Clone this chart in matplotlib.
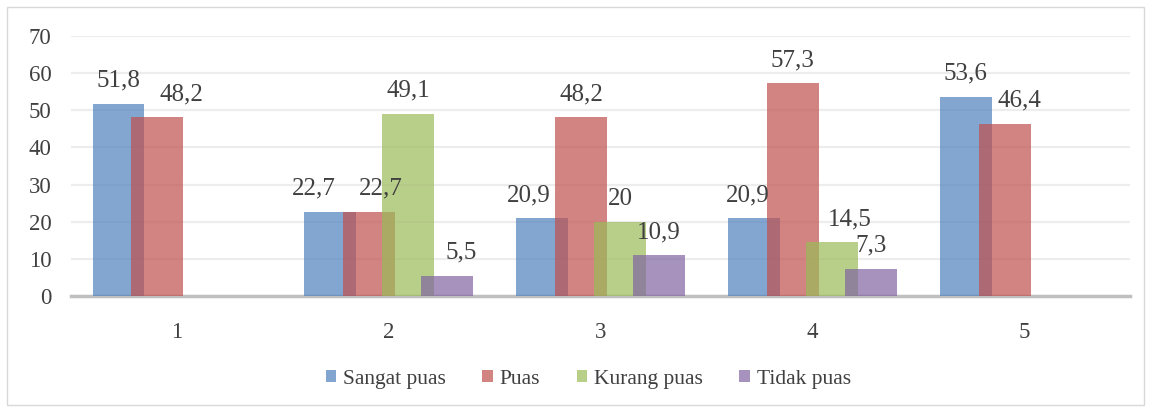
import numpy as np
import matplotlib.pyplot as plt
from matplotlib.patches import Rectangle

# Data
categories = ['1', '2', '3', '4', '5']
series_names = ['Sangat puas', 'Puas', 'Kurang puas', 'Tidak puas']
sangat_puas = [51.8, 22.7, 20.9, 20.9, 53.6]
puas = [48.2, 22.7, 48.2, 57.3, 46.4]
kurang_puas = [None, 49.1, 20.0, 14.5, None]
tidak_puas = [None, 5.5, 10.9, 7.3, None]
colors = ['#4F81BD', '#C0504D', '#9BBB59', '#8064A2']

# horizontal nudges (pixels) of the value labels, as Excel moves them off neighbours
label_dx = [[0, -16, -13, -6, 0],
            [24, 12, 0, 0, 15],
            [0, 0, 0, 18, 0],
            [0, 14, 0, 0, 0]]

plt.rcParams['font.family'] = ['Liberation Serif', 'DejaVu Serif']
txt_color = '#404040'

fig = plt.figure(figsize=(11.51, 4.12), dpi=100)
ax = fig.add_axes([0.0617, 0.2816, 0.92, 0.631])

# light outer frame like the Excel chart area
fig.patches.append(Rectangle((7 / 1151, 7 / 412), 1137 / 1151, 398 / 412,
                             transform=fig.transFigure, fill=False,
                             edgecolor='#D9D9D9', lw=1.0))

x = np.arange(len(categories))
step = 0.184   # bars overlap
width = 0.245
all_series = [sangat_puas, puas, kurang_puas, tidak_puas]

for i, (name, vals, col) in enumerate(zip(series_names, all_series, colors)):
    xs = x + (i - 1.5) * step
    hs = [v if v is not None else 0 for v in vals]
    ax.bar(xs, hs, width=width, color=col, alpha=0.7, label=name,
           linewidth=0, zorder=3)
    for j, (xi, v) in enumerate(zip(xs, vals)):
        if v is None:
            continue
        lbl = ('%g' % v).replace('.', ',')
        ax.annotate(lbl, (xi, v), xytext=(label_dx[i][j], 23),
                    textcoords='offset pixels', ha='center', va='center',
                    fontsize=18, color=txt_color, zorder=5)

ax.set_xlim(-0.5, len(categories) - 0.5)
ax.set_ylim(0, 70)
ax.set_yticks(np.arange(0, 71, 10))
ax.set_xticks(x)
ax.set_xticklabels(categories)
ax.grid(axis='y', color='#EDEDED', lw=1.6, zorder=0)
ax.set_axisbelow(True)
for s in ['top', 'right', 'left']:
    ax.spines[s].set_visible(False)
ax.spines['bottom'].set_color('#BFBFBF')
ax.spines['bottom'].set_linewidth(2.5)
ax.tick_params(axis='both', length=0, labelsize=16.5, labelcolor=txt_color)
ax.tick_params(axis='y', pad=14)
ax.tick_params(axis='x', pad=19)

leg = fig.legend(loc='center', bbox_to_anchor=(0.511, 0.08), ncol=4,
                 frameon=False, prop={'family': 'Liberation Serif', 'size': 15.5},
                 handlelength=0.5, handleheight=0.5, handletextpad=0.3,
                 columnspacing=1.7, labelcolor=txt_color)

fig.savefig('out.png', dpi=100)
